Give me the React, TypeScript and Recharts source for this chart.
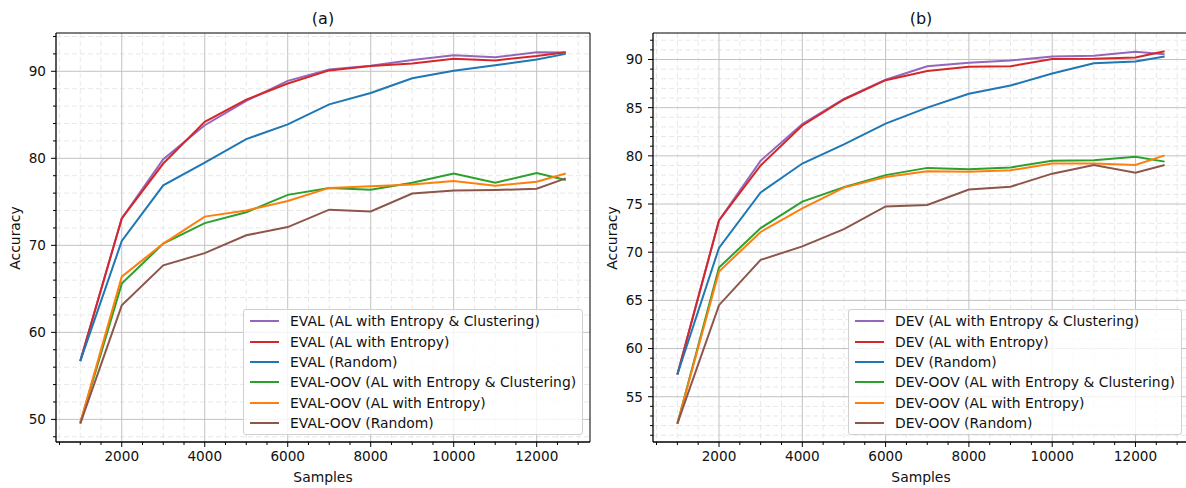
import React from "react"
import { LineChart, Line, XAxis, YAxis, CartesianGrid, Legend, ReferenceLine } from "recharts"

// x positions (number of training samples)
const samples = [1000, 2000, 3000, 4000, 5000, 6000, 7000, 8000, 9000, 10000, 11000, 12000, 12700]

// panel (a): EVAL
const evalNames = [
  "EVAL (AL with Entropy & Clustering)",
  "EVAL (AL with Entropy)",
  "EVAL (Random)",
  "EVAL-OOV (AL with Entropy & Clustering)",
  "EVAL-OOV (AL with Entropy)",
  "EVAL-OOV (Random)",
]
const evalEntClu = [56.7, 73.1, 79.9, 83.8, 86.6, 88.9, 90.2, 90.65, 91.3, 91.85, 91.6, 92.2, 92.15]
const evalEnt = [56.7, 73.1, 79.4, 84.2, 86.75, 88.6, 90.1, 90.6, 90.9, 91.45, 91.25, 91.75, 92.2]
const evalRand = [56.7, 70.5, 76.9, 79.5, 82.2, 83.9, 86.2, 87.5, 89.2, 90.05, 90.7, 91.35, 92.0]
const evalOovEntClu = [49.6, 65.6, 70.2, 72.55, 73.8, 75.8, 76.6, 76.4, 77.2, 78.25, 77.2, 78.3, 77.5]
const evalOovEnt = [49.6, 66.4, 70.2, 73.3, 74.0, 75.1, 76.6, 76.8, 77.0, 77.4, 76.85, 77.3, 78.25]
const evalOovRand = [49.5, 63.1, 67.7, 69.1, 71.15, 72.1, 74.1, 73.9, 75.95, 76.3, 76.35, 76.5, 77.7]

// panel (b): DEV
const devNames = [
  "DEV (AL with Entropy & Clustering)",
  "DEV (AL with Entropy)",
  "DEV (Random)",
  "DEV-OOV (AL with Entropy & Clustering)",
  "DEV-OOV (AL with Entropy)",
  "DEV-OOV (Random)",
]
const devEntClu = [57.3, 73.3, 79.5, 83.3, 85.9, 87.9, 89.3, 89.65, 89.9, 90.3, 90.4, 90.8, 90.55]
const devEnt = [57.3, 73.3, 79.0, 83.15, 85.85, 87.85, 88.8, 89.25, 89.3, 90.05, 90.07, 90.2, 90.85]
const devRand = [57.3, 70.45, 76.2, 79.2, 81.2, 83.35, 85.0, 86.45, 87.3, 88.55, 89.6, 89.8, 90.3]
const devOovEntClu = [52.2, 68.4, 72.5, 75.25, 76.75, 78.0, 78.75, 78.6, 78.8, 79.5, 79.55, 79.9, 79.4]
const devOovEnt = [52.2, 68.0, 72.1, 74.55, 76.7, 77.8, 78.4, 78.35, 78.5, 79.2, 79.2, 79.05, 80.05]
const devOovRand = [52.2, 64.5, 69.2, 70.6, 72.4, 74.75, 74.9, 76.5, 76.8, 78.15, 79.05, 78.25, 79.05]

// ticks
const xMajorTicks = [2000, 4000, 6000, 8000, 10000, 12000]
const xMinorTicks = [500, 1000, 1500, 2500, 3000, 3500, 4500, 5000, 5500, 6500, 7000, 7500, 8500, 9000, 9500, 10500, 11000, 11500, 12500, 13000]
const evalYMajor = [50, 60, 70, 80, 90]
const evalYMinor = [48, 52, 54, 56, 58, 62, 64, 66, 68, 72, 74, 76, 78, 82, 84, 86, 88, 92, 94]
const devYMajor = [55, 60, 65, 70, 75, 80, 85, 90]
const devYMinor = [51, 52, 53, 54, 56, 57, 58, 59, 61, 62, 63, 64, 66, 67, 68, 69, 71, 72, 73, 74, 76, 77, 78, 79, 81, 82, 83, 84, 86, 87, 88, 89, 91, 92]

const colors = ["#9467bd", "#d62728", "#1f77b4", "#2ca02c", "#ff7f0e", "#8c564b"]
const xDomain: [number, number] = [415, 13285]

const FONT = "'DejaVu Sans', sans-serif"
const TICK_FS = 13.6
const LABEL_FS = 13.9
const AXIS_H = 30
const AXIS_W = 40

function buildRows(series: number[][]) {
  return samples.map((s, i) => {
    const row: { [k: string]: number } = { samples: s }
    series.forEach((vals, j) => { row[`s${j}`] = vals[i] })
    return row
  })
}

const allTicks = (major: number[], minor: number[]) => [...major, ...minor].sort((a, b) => a - b)

// matplotlib-like tick: long tick + label for majors, short tick for minors
function makeXTick(major: number[]) {
  return (props: any) => {
    const { x, y, payload } = props
    const isMajor = major.includes(payload.value)
    const len = isMajor ? 5 : 3
    return (
      <g>
        <line x1={x} x2={x} y1={y} y2={y + len} stroke="#000" strokeWidth={1} />
        {isMajor && (
          <text x={x} y={y + len + 4} dy="0.76em" textAnchor="middle" fill="#111" fontSize={TICK_FS}>{payload.value}</text>
        )}
      </g>
    )
  }
}

function makeYTick(major: number[]) {
  return (props: any) => {
    const { x, y, payload } = props
    const isMajor = major.includes(payload.value)
    const len = isMajor ? 5 : 3
    return (
      <g>
        <line x1={x} x2={x - len} y1={y} y2={y} stroke="#000" strokeWidth={1} />
        {isMajor && (
          <text x={x - len - 5} y={y} dy="0.36em" textAnchor="end" fill="#111" fontSize={TICK_FS}>{payload.value}</text>
        )}
      </g>
    )
  }
}

interface PanelProps {
  left: number
  title: string
  names: string[]
  series: number[][]
  yDomain: [number, number]
  yMajor: number[]
  yMinor: number[]
  plot: { left: number; right: number; top: number; bottom: number }
  legend: { left: number; top: number; width: number; height: number }
  yLabelX: number
}

function renderLegend(props: any) {
  const payload = props.payload || []
  return (
    <div style={{
      boxSizing: "border-box", width: "100%", height: "100%",
      background: "rgba(255,255,255,0.8)", border: "1px solid #d0d0d0", borderRadius: 3,
      padding: "1px 0 0 6px", fontFamily: FONT, fontSize: LABEL_FS, color: "#111",
    }}>
      {payload.map((p: any) => (
        <div key={p.value} style={{ height: 20.4, display: "flex", alignItems: "center", whiteSpace: "nowrap" }}>
          <span style={{ display: "inline-block", width: 29, height: 2, background: p.color, marginRight: 11 }} />
          <span>{p.value}</span>
        </div>
      ))}
    </div>
  )
}

function Panel({ left, title, names, series, yDomain, yMajor, yMinor, plot, legend, yLabelX }: PanelProps) {
  const W = 600
  const H = 488
  const data = buildRows(series)
  const margin = { top: plot.top, right: W - plot.right, bottom: H - plot.bottom - AXIS_H, left: plot.left - AXIS_W }
  const cx = (plot.left + plot.right) / 2
  const cy = (plot.top + plot.bottom) / 2
  return (
    <div style={{ position: "absolute", left, top: 0, width: W, height: H }}>
      <LineChart width={W} height={H} data={data} margin={margin}>
        <CartesianGrid verticalValues={xMinorTicks} horizontalValues={yMinor} stroke="#e8e8e8" strokeDasharray="5 3" />
        <CartesianGrid verticalValues={xMajorTicks} horizontalValues={yMajor} stroke="#c2c2c2" />
        <XAxis type="number" dataKey="samples" domain={xDomain} ticks={allTicks(xMajorTicks, xMinorTicks)} interval={0}
          height={AXIS_H} tickSize={0} tickMargin={0} tickLine={false}
          axisLine={{ stroke: "#000", strokeWidth: 1.3 }} tick={makeXTick(xMajorTicks)} allowDataOverflow />
        <YAxis type="number" domain={yDomain} ticks={allTicks(yMajor, yMinor)} interval={0}
          width={AXIS_W} tickSize={0} tickMargin={0} tickLine={false}
          axisLine={{ stroke: "#000", strokeWidth: 1.3 }} tick={makeYTick(yMajor)} allowDataOverflow />
        {names.map((n, i) => (
          <Line key={n} type="linear" dataKey={`s${i}`} name={n} stroke={colors[i]} strokeWidth={2}
            dot={false} activeDot={false} isAnimationActive={false} />
        ))}
        <ReferenceLine y={yDomain[1]} stroke="#000" strokeWidth={1} />
        <ReferenceLine x={xDomain[1]} stroke="#000" strokeWidth={1} />
        <Legend layout="vertical" align="center" verticalAlign="middle" width={legend.width} height={legend.height}
          wrapperStyle={{ left: legend.left, top: legend.top, width: legend.width, height: legend.height }}
          content={renderLegend} />
      </LineChart>
      <div style={{ position: "absolute", left: cx, top: 19, transform: "translate(-50%,-50%)", fontSize: 16, lineHeight: 1, whiteSpace: "nowrap" }}>{title}</div>
      <div style={{ position: "absolute", left: cx, top: 478, transform: "translate(-50%,-50%)", fontSize: LABEL_FS, lineHeight: 1, whiteSpace: "nowrap" }}>Samples</div>
      <div style={{ position: "absolute", left: yLabelX, top: cy, transform: "translate(-50%,-50%) rotate(-90deg)", fontSize: LABEL_FS, lineHeight: 1, whiteSpace: "nowrap" }}>Accuracy</div>
    </div>
  )
}

export default function App() {
  return (
    <div style={{ position: "absolute", left: 0, top: 0, width: 1186, height: 488, overflow: "hidden", background: "#fff", fontFamily: FONT, color: "#111" }}>
      <Panel left={0} title="(a)" names={evalNames}
        series={[evalEntClu, evalEnt, evalRand, evalOovEntClu, evalOovEnt, evalOovRand]}
        yDomain={[47.4, 94.4]} yMajor={evalYMajor} yMinor={evalYMinor}
        plot={{ left: 56, right: 590, top: 33, bottom: 442 }}
        legend={{ left: 243, top: 309, width: 340, height: 126 }} yLabelX={16} />
      <Panel left={600} title="(b)" names={devNames}
        series={[devEntClu, devEnt, devRand, devOovEntClu, devOovEnt, devOovRand]}
        yDomain={[50.3, 92.75]} yMajor={devYMajor} yMinor={devYMinor}
        plot={{ left: 53, right: 589, top: 33, bottom: 442 }}
        legend={{ left: 248, top: 309, width: 334, height: 126 }} yLabelX={13} />
    </div>
  )
}
